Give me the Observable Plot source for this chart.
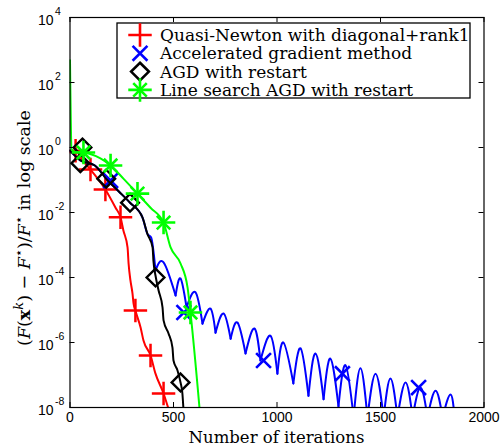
<!DOCTYPE html>
<html><head><meta charset="utf-8">
<script src="https://cdn.jsdelivr.net/npm/d3@7"></script>
<script src="https://cdn.jsdelivr.net/npm/@observablehq/plot@0.6"></script>
<style>body{margin:0;background:#fff} #chart{position:relative;width:504px;height:447px}</style>
</head><body><div id="chart"></div>
<script>
// ---- axis ticks ----
const xTicks = [0, 500, 1000, 1500, 2000];
const yTicks = [1e4, 1e2, 1e0, 1e-2, 1e-4, 1e-6, 1e-8];
const yTickExp = ["4", "2", "0", "-2", "-4", "-6", "-8"];

// ---- series names ----
const seriesNames = ["Quasi-Newton with diagonal+rank1", "Accelerated gradient method", "AGD with restart", "Line search AGD with restart"];

// ---- Quasi-Newton (red) ----
const redIter = [0, 27, 60, 99, 171, 220, 244, 258, 278, 283, 292, 302, 307, 316, 341, 355, 389, 413, 452, 476];
const redVal  = [0.7, 0.8, 0.4, 0.21, 0.051, 0.014, 0.0071, 0.0028, 8.4e-4, 2.7e-4, 8.1e-5, 3.2e-5, 1.6e-5, 9.6e-6, 2.9e-6, 1.15e-6, 4e-7, 1.1e-7, 2.7e-8, 9e-9];
const redMarkIter = [27, 99, 171, 244, 316, 389, 452];
const redMarkVal  = [0.8, 0.21, 0.051, 0.0071, 9.6e-6, 4e-7, 2.7e-8];

// ---- Accelerated gradient (blue) ----
const bluePreIter = [0, 50, 120, 180, 235, 290, 350, 374, 392, 413];
const bluePreVal  = [0.8, 0.4, 0.28, 0.1, 0.045, 0.02, 0.0071, 0.0022, 1.7e-3, 1.65e-4];
const blueTroughIter = [413, 510, 563, 640, 703, 776, 848, 920, 1002, 1079, 1152, 1225, 1297, 1370, 1437, 1515, 1582, 1655, 1727, 1800, 1858];
const blueTroughVal  = [1.65e-4, 2.8e-5, 1.2e-5, 3.8e-6, 2.0e-6, 1.3e-6, 4.6e-7, 2.8e-7, 1.1e-7, 5.5e-8, 2.3e-8, 1.8e-8, 1.1e-8, 5e-9, 5e-9, 5e-9, 5e-9, 5e-9, 5e-9, 5e-9, 5e-9];
const bluePeakIter = [452, 534, 606, 679, 742, 809, 891, 969, 1031, 1114, 1186, 1258, 1331, 1403, 1476, 1548, 1621, 1693, 1766, 1838];
const bluePeakVal  = [2.9e-4, 9.3e-5, 3.5e-5, 1.1e-5, 7.8e-6, 4.1e-6, 2.7e-6, 1.6e-6, 1.0e-6, 6.6e-7, 4.6e-7, 3.2e-7, 2e-7, 1.6e-7, 1.1e-7, 7.8e-8, 5.9e-8, 4.1e-8, 3.3e-8, 2.5e-8];
const blueMarkIter = [196, 550, 935, 1316, 1684];
const blueMarkVal  = [0.096, 8.4e-6, 2.8e-7, 1.1e-7, 4.1e-8];

// ---- AGD with restart (black) ----
const blackIter = [0, 50, 120, 180, 235, 290, 350, 374, 399, 403, 413, 428, 447, 452, 476, 495, 500, 519, 534, 543, 548];
const blackVal  = [0.8, 0.4, 0.28, 0.1, 0.045, 0.02, 0.0071, 0.0022, 8.4e-4, 3.3e-4, 1.15e-4, 4e-5, 1.2e-5, 4.8e-6, 1.9e-6, 7e-7, 2.8e-7, 1.4e-7, 5.9e-8, 2.7e-8, 9e-9];
const blackMarkIter = [50, 60, 175, 290, 413, 534];
const blackMarkVal  = [0.33, 1.0, 0.11, 0.02, 1e-4, 5.9e-8];

// ---- Line search AGD with restart (green) ----
const greenIter = [0, 8, 30, 65, 147, 196, 258, 326, 389, 452, 486, 534, 568, 582, 626];
const greenVal  = [480, 0.85, 0.72, 0.7, 0.46, 0.28, 0.11, 0.038, 0.014, 0.0049, 8.4e-4, 2.7e-4, 4.9e-5, 8.4e-6, 9e-9];
const greenMarkIter = [65, 196, 326, 452, 582];
const greenMarkVal  = [0.7, 0.28, 0.038, 0.0049, 8.4e-6];

const RED = "#ff0000", BLUE = "#0000ff", BLACK = "#000000", GREEN = "#00ff00";
const SERIF = "'DejaVu Serif', serif";
const SANS = "'Liberation Sans', Arial, sans-serif";

const rows = (xs, ys) => xs.map((x, i) => ({iter: x, val: ys[i]}));
const blueArches = [];
for (let i = 0; i < bluePeakIter.length; i++) {
  blueArches.push({iter: blueTroughIter[i], val: blueTroughVal[i], arch: i});
  blueArches.push({iter: bluePeakIter[i], val: bluePeakVal[i], arch: i});
  blueArches.push({iter: blueTroughIter[i + 1], val: blueTroughVal[i + 1], arch: i});
}

const W = 504, H = 447, mL = 69.5, mR = 20.5, mT = 17, mB = 40;
const fw = W - mL - mR, fh = H - mT - mB;

const svgEl = Plot.plot({
  width: W, height: H,
  marginLeft: mL, marginRight: mR, marginTop: mT, marginBottom: mB,
  x: {domain: [0, 2000], axis: null},
  y: {type: "log", domain: [1e-8, 1e4], axis: null},
  style: {background: "white", color: "black"},
  marks: [
    Plot.line(rows(redIter, redVal), {x: "iter", y: "val", stroke: RED, strokeWidth: 2, curve: "monotone-x", clip: true}),
    Plot.dot(rows(redMarkIter, redMarkVal), {x: "iter", y: "val", symbol: "plus", r: 7.6, stroke: RED, strokeWidth: 2.5, clip: true}),
    Plot.line(rows(bluePreIter, bluePreVal), {x: "iter", y: "val", stroke: BLUE, strokeWidth: 2, curve: "monotone-x", clip: true}),
    Plot.line(blueArches, {x: "iter", y: "val", z: "arch", stroke: BLUE, strokeWidth: 2, curve: "natural", clip: true}),
    Plot.dot(rows(blueMarkIter, blueMarkVal), {x: "iter", y: "val", symbol: "times", r: 6.8, stroke: BLUE, strokeWidth: 2.6, clip: true}),
    Plot.line(rows(blackIter, blackVal), {x: "iter", y: "val", stroke: BLACK, strokeWidth: 2, curve: "monotone-x", clip: true}),
    Plot.dot(rows(blackMarkIter, blackMarkVal), {x: "iter", y: "val", symbol: "diamond2", r: 8, stroke: BLACK, fill: "none", strokeWidth: 2.4, clip: true}),
    Plot.line(rows(greenIter, greenVal), {x: "iter", y: "val", stroke: GREEN, strokeWidth: 2, curve: "monotone-x", clip: true}),
    Plot.dot(rows(greenMarkIter, greenMarkVal), {x: "iter", y: "val", symbol: "plus", r: 7.6, stroke: GREEN, strokeWidth: 2.6}),
    Plot.dot(rows(greenMarkIter, greenMarkVal), {x: "iter", y: "val", symbol: "times", r: 6.2, stroke: GREEN, strokeWidth: 2.6}),
    Plot.frame({stroke: "black", strokeWidth: 1.2}),
    Plot.tickX(xTicks, {x: d => d, insetTop: fh - 5, stroke: "black", strokeWidth: 1}),
    Plot.tickX(xTicks, {x: d => d, insetBottom: fh - 5, stroke: "black", strokeWidth: 1}),
    Plot.tickY(yTicks, {y: d => d, insetRight: fw - 5, stroke: "black", strokeWidth: 1}),
    Plot.tickY(yTicks, {y: d => d, insetLeft: fw - 5, stroke: "black", strokeWidth: 1}),
    Plot.text(xTicks, {x: d => d, frameAnchor: "bottom", dy: 14, text: d => String(d), fontFamily: SANS, fontSize: 14, fill: "black"}),
    Plot.text(yTicks, {y: d => d, frameAnchor: "left", dx: -16.5, dy: 3, text: () => "10", textAnchor: "end", fontFamily: SANS, fontSize: 14, fill: "black"}),
    Plot.text(yTicks, {y: d => d, frameAnchor: "left", dx: -15, dy: -6, text: (d, i) => yTickExp[i], textAnchor: "start", fontFamily: SANS, fontSize: 10.5, fill: "black"})
  ]
});
document.getElementById("chart").appendChild(svgEl);
const svg = d3.select(svgEl);

// x label
svg.append("text").attr("x", mL + fw / 2).attr("y", 443).attr("text-anchor", "middle")
  .style("font-family", SERIF).style("font-size", "16.5px").attr("fill", "black").text("Number of iterations");

// y label with math
const yl = svg.append("text").attr("transform", "translate(30,228) rotate(-90)").attr("text-anchor", "middle")
  .style("font-family", SERIF).style("font-size", "17.5px").attr("fill", "black");
const parts = [
  ["(", {}], ["F", {it: 1}], ["(", {}], ["x", {bf: 1}], ["k", {it: 1, sup: 1}], [") − ", {}],
  ["F", {it: 1}], ["⋆", {sup: 1}], [")/", {}], ["F", {it: 1}], ["⋆", {sup: 1}], [" in log scale", {}]
];
let prevSup = false;
parts.forEach(([t, o]) => {
  const ts = yl.append("tspan").text(t);
  if (o.it) ts.style("font-style", "italic");
  if (o.bf) ts.style("font-weight", "bold");
  if (o.sup) { ts.style("font-size", "13px"); if (!prevSup) ts.attr("dy", -7); }
  else if (prevSup) ts.attr("dy", 7);
  prevSup = !!o.sup;
});

// legend
const lg = svg.append("g");
lg.append("rect").attr("x", 117).attr("y", 23).attr("width", 353).attr("height", 75)
  .attr("fill", "white").attr("stroke", "black").attr("stroke-width", 1.3);
const legendRows = [
  {name: seriesNames[0], color: RED, syms: [["plus", 7.6]]},
  {name: seriesNames[1], color: BLUE, syms: [["times", 6.8]]},
  {name: seriesNames[2], color: BLACK, syms: [["diamond2", 8]]},
  {name: seriesNames[3], color: GREEN, syms: [["plus", 7.6], ["times", 6.2]]}
];
const symMap = {plus: d3.symbolPlus, times: d3.symbolTimes, diamond2: d3.symbolDiamond2};
legendRows.forEach((r, i) => {
  const cy = 35 + i * 18.3;
  r.syms.forEach(([s, rr]) => {
    lg.append("path").attr("transform", `translate(140,${cy})`)
      .attr("d", d3.symbol(symMap[s], Math.PI * rr * rr)())
      .attr("fill", "none").attr("stroke", r.color).attr("stroke-width", 2.6);
  });
  lg.append("text").attr("x", 160).attr("y", cy + 6).attr("text-anchor", "start")
    .style("font-family", SERIF).style("font-size", "17px")
    .attr("fill", "black").text(r.name);
});
</script></body></html>
